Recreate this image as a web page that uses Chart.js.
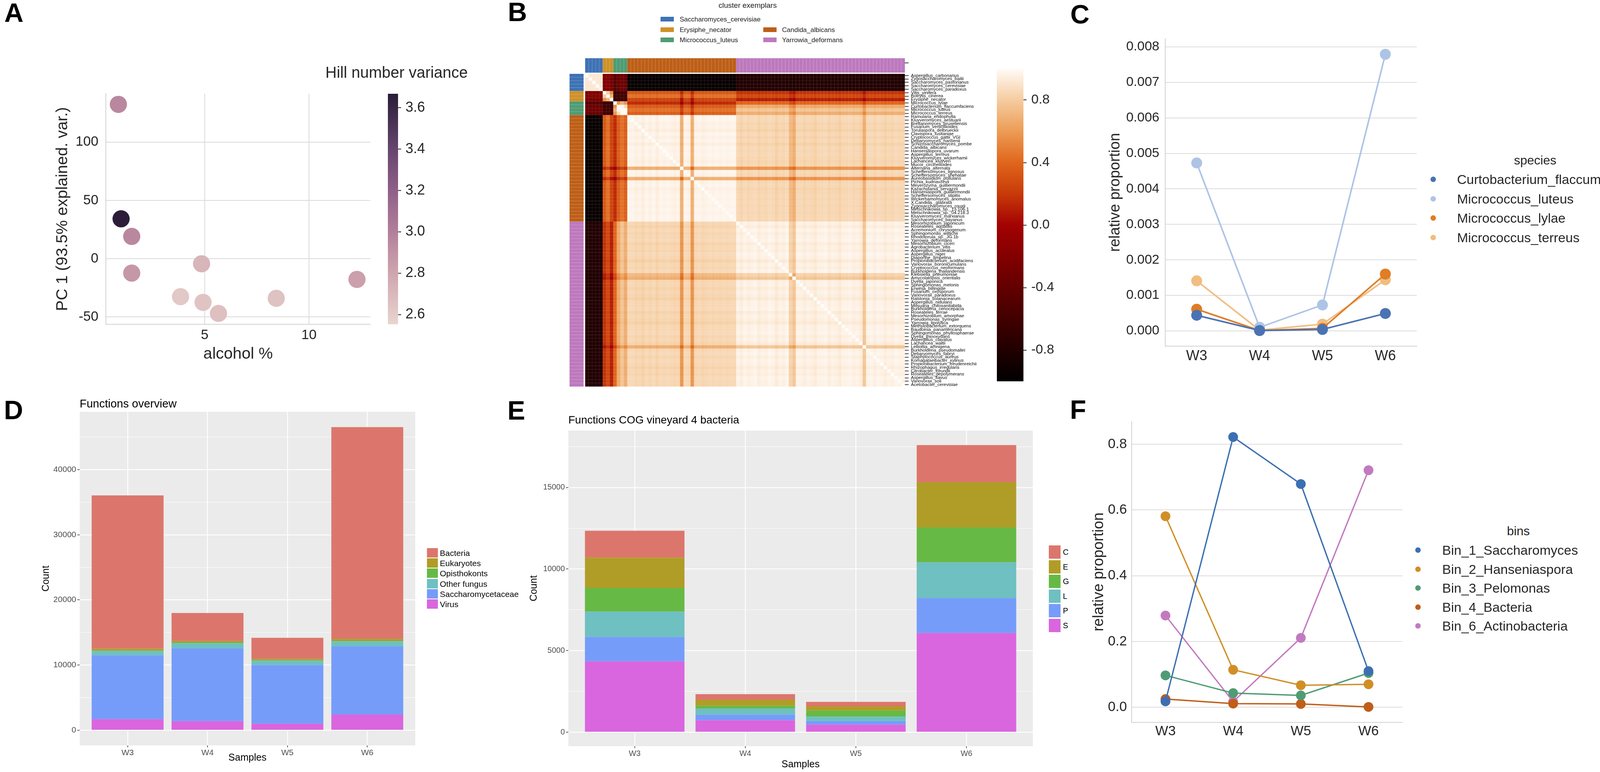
<!DOCTYPE html>
<html>
<head>
<meta charset="utf-8">
<script src="https://cdn.jsdelivr.net/npm/chart.js@4.4.1/dist/chart.umd.min.js"></script>
<style>
  html, body { margin: 0; padding: 0; background: #fff; }
  #page { position: relative; width: 4230px; height: 1976px; overflow: hidden;
          font-family: "Liberation Sans", Arial, Helvetica, sans-serif; color: #262626; }
  canvas { position: absolute; }
  .lbl { position: absolute; white-space: nowrap; line-height: 1; }
  .letter { position: absolute; font-weight: bold; font-size: 68px; line-height: 1; color: #000; }
  .sw { position: absolute; }
</style>
</head>
<body>
<div id="page"></div>
<script>
// ===== A : PCA vs alcohol =====
const alcoholPct   = [0.86, 0.99, 1.50, 1.50, 4.85, 12.3, 3.84, 4.92, 8.43, 5.66];
const pc1Values    = [132.4, 34.2, 19.1, -12.4, -4.4, -17.8, -32.6, -37.5, -34.0, -47.0];
const hillVariance = [2.95, 3.66, 2.95, 2.87, 2.72, 2.83, 2.62, 2.64, 2.65, 2.66];
const alcoholTicks = [5, 10];
const pc1Ticks     = [-50, 0, 50, 100];
const hillTicks    = [2.6, 2.8, 3.0, 3.2, 3.4, 3.6];

// ===== B : correlation heatmap =====
const clusterNames = ['Saccharomyces_cerevisiae', 'Erysiphe_necator', 'Micrococcus_luteus', 'Candida_albicans', 'Yarrowia_deformans'];
const clusterSizes = [5, 3, 4, 31, 48];
const speciesNames = [
  'Aspergillus_carbonarius','Zygosaccharomyces_bailii','Saccharomyces_pastorianus','Saccharomyces_cerevisiae','Saccharomyces_paradoxus',
  'Vitis_vinifera','Botrytis_cinerea','Erysiphe_necator',
  'Micrococcus_lylae','Curtobacterium_flaccumfaciens','Micrococcus_luteus','Micrococcus_terreus',
  'Ramularia_endophylla','Kluyveromyces_aestuarii','Brettanomyces_bruxellensis','Fusarium_verticillioides','Torulaspora_delbrueckii',
  'Clavispora_lusitaniae','Cryptococcus_gattii_VGI','Debaryomyces_hansenii','Schizosaccharomyces_pombe','Candida_albicans',
  'Hanseniaspora_uvarum','Aspergillus_terreus','Kluyveromyces_wickerhamii','Lachancea_kluyveri','Mucor_circinelloides',
  'Alternaria_alternata','Scheffersomyces_lignosus','Scheffersomyces_shehatae','Aureobasidium_pullulans','Pichia_kudriavzevii',
  'Meyerozyma_guilliermondii','Kazachstania_servazzii','Hanseniaspora_guilliermondii','Scheffersomyces_stipitis','Wickerhamomyces_anomalus',
  'X.Candida._glabrata','Zygosaccharomyces_rouxii','Metschnikowia_sp._13.106.1','Metschnikowia_sp._04.218.3','Kluyveromyces_marxianus',
  'Saccharomyces_bayanus',
  'Mesorhizobium_japonicum','Roseateles_aquatilis','Acremonium_chrysogenum','Sphingomonas_wittichii','Rhodotorula_sp._JG.1b',
  'Yarrowia_deformans','Mesorhizobium_ciceri','Agrobacterium_vitis','Aspergillus_aculeatus','Aspergillus_niger','Diaporthe_ampelina',
  'Propionibacterium_acidifaciens','Variovorax_boronicumulans','Cryptococcus_neoformans','Burkholderia_thailandensis','Klebsiella_pneumoniae',
  'Amycolatopsis_orientalis','Dyella_japonica','Sphingomonas_melonis','Erwinia_billingiae','Fusarium_oxysporum','Variovorax_paradoxus',
  'Ralstonia_solanacearum','Aspergillus_nidulans','Mitsuaria_chitosanitabida','Burkholderia_cenocepacia','Roseateles_terrae',
  'Mesorhizobium_amorphae','Pseudomonas_syringae','Yarrowia_lipolytica','Methylobacterium_extorquens','Baudoinia_panamericana',
  'Sphingomonas_phyllosphaerae','Dyella_thiooxydans','Aspergillus_clavatus','Lachancea_waltii','Lelliottia_amnigena',
  'Burkholderia_pseudomallei','Debaryomyces_fabryi','Staphylococcus_aureus','Komagataeibacter_xylinus','Propionibacterium_freudenreichii',
  'Rhizophagus_irregularis','Citrobacter_freundii','Roseateles_depolymerans','Aspergillus_flavus','Variovorax_soli','Acetobacter_cerevisiae'
];
// mean correlation between the cluster blocks
const blockCorr = [
  [ 0.92, -0.20, -0.35, -0.95, -0.80],
  [-0.20,  0.85, -0.60,  0.42,  0.25],
  [-0.35, -0.60,  0.95,  0.40,  0.72],
  [-0.95,  0.42,  0.40,  1.00,  0.88],
  [-0.80,  0.25,  0.72,  0.88,  1.00]
];
// how far each species sits below its block mean (the visible stripes)
const speciesDip = [
  0.00, 0.00, 0.00, 0.00, 0.00,
  0.10, -0.05, 0.22,
  0.35, 0.05, -0.08, 0.03,
  0.01, 0.01, 0.03, 0.02, 0.04, 0.01, 0.03, 0.01, 0.04, 0.01, 0.02, 0.01, 0.02, 0.03, 0.02,
  0.30, 0.01, 0.02, 0.30,
  0.02, 0.01, 0.03, 0.02, 0.01, 0.02, 0.01, 0.02, 0.01, 0.02, 0.01, 0.01,
  0.02, 0.04, 0.01, 0.03, 0.02, 0.01, 0.04, 0.02, 0.03, 0.01, 0.02, 0.05, 0.02, 0.03, 0.01,
  0.15, 0.20,
  0.02, 0.02, 0.04, 0.02, 0.03, 0.05, 0.02, 0.02, 0.01, 0.04, 0.02, 0.03, 0.05, 0.02, 0.02, 0.01, 0.03, 0.02, 0.04,
  0.20,
  0.02, 0.01, 0.03, 0.01, 0.02, 0.04, 0.02, 0.03, 0.01, 0.02, 0.02
];
const corrTicks = [-0.8, -0.4, 0.0, 0.4, 0.8];

// ===== C : Micrococcus species =====
const weeks = ['W3', 'W4', 'W5', 'W6'];
const speciesC = ['Curtobacterium_flaccumfaciens', 'Micrococcus_luteus', 'Micrococcus_lylae', 'Micrococcus_terreus'];
const curtoProp   = [0.00044, 0.00001, 0.00004, 0.00049];
const luteusProp  = [0.00473, 0.00010, 0.00073, 0.00779];
const lylaeProp   = [0.00061, 0.00001, 0.00007, 0.00160];
const terreusProp = [0.00141, 0.00002, 0.00019, 0.00144];
const propTicksC  = [0, 0.001, 0.002, 0.003, 0.004, 0.005, 0.006, 0.007, 0.008];

// ===== D : functions overview =====
const groupNames = ['Bacteria', 'Eukaryotes', 'Opisthokonts', 'Other fungus', 'Saccharomycetaceae', 'Virus'];
const ovBacteria     = [23550, 4300, 3240, 32500];
const ovEukaryotes   = [250, 200, 200, 280];
const ovOpisthokonts = [100, 150, 100, 100];
const ovOtherFungus  = [650, 800, 650, 800];
const ovSacch        = [9800, 11140, 9000, 10440];
const ovVirus        = [1700, 1400, 1000, 2400];
const countTicksD    = [0, 5000, 10000, 15000, 20000, 25000, 30000, 35000, 40000, 45000];

// ===== E : COG functions =====
const cogNames = ['C', 'E', 'G', 'L', 'P', 'S'];
const cogC = [1650, 340, 275, 2265];
const cogE = [1860, 375, 255, 2780];
const cogG = [1450, 170, 375, 2135];
const cogL = [1550, 375, 270, 2200];
const cogP = [1500, 340, 220, 2135];
const cogS = [4340, 730, 460, 6080];
const countTicksE = [0, 2500, 5000, 7500, 10000, 12500, 15000, 17500];

// ===== F : bins =====
const binNames = ['Bin_1_Saccharomyces', 'Bin_2_Hanseniaspora', 'Bin_3_Pelomonas', 'Bin_4_Bacteria', 'Bin_6_Actinobacteria'];
const bin1 = [0.018, 0.822, 0.679, 0.110];
const bin2 = [0.581, 0.114, 0.067, 0.070];
const bin3 = [0.097, 0.043, 0.036, 0.104];
const bin4 = [0.025, 0.011, 0.010, 0.001];
const bin6 = [0.279, 0.017, 0.211, 0.721];
const propTicksF = [0, 0.2, 0.4, 0.6, 0.8];

// ---------- styles ----------
const hillStops = [[2.553, '#e9d5cf'], [2.8, '#cfa5ae'], [3.0, '#b27f9a'], [3.2, '#8f6088'], [3.4, '#66456f'], [3.668, '#2a1d38']];
const heatStops = [[-1, '#000000'], [-0.6, '#420000'], [-0.2, '#830000'], [0, '#a30202'], [0.2, '#c83a08'],
                   [0.4, '#e0661c'], [0.6, '#ec9c55'], [0.8, '#f5cc9f'], [1, '#fffbf7']];
const clusterColors = ['#3e72b5', '#cf9128', '#4f9c74', '#bd5f17', '#bd79bd'];
const hueColors = ['#dc766c', '#b09d27', '#67b946', '#6ec0c1', '#769cfa', '#d966de'];
const cColors = ['#4a73b3', '#aec4e6', '#e07d25', '#f1bd80'];
const fColors = ['#3c6fb2', '#d08f26', '#4f9c74', '#c05d19', '#c27abf'];

const page = document.getElementById('page');
Chart.defaults.font.family = '"Liberation Sans", Arial, Helvetica, sans-serif';
Chart.defaults.color = '#262626';

function hexRgb(h) { return [1, 3, 5].map(k => parseInt(h.slice(k, k + 2), 16)); }
function lerpStops(stops, v) {
  if (v <= stops[0][0]) return stops[0][1];
  for (let k = 1; k < stops.length; k++) {
    if (v <= stops[k][0]) {
      const a = hexRgb(stops[k - 1][1]), b = hexRgb(stops[k][1]);
      const t = (v - stops[k - 1][0]) / (stops[k][0] - stops[k - 1][0]);
      return 'rgb(' + a.map((x, i) => Math.round(x + (b[i] - x) * t)).join(',') + ')';
    }
  }
  return stops[stops.length - 1][1];
}

const PAD = 40;
function mountCanvas(area, ax) {
  const wl = ax.left || 0, wr = ax.right || 0, hb = ax.bottom || 0;
  const c = document.createElement('canvas');
  const w = (area.r - area.l) + wl + wr + 2 * PAD, h = (area.b - area.t) + hb + 2 * PAD;
  c.width = w; c.height = h;
  c.style.left = (area.l - wl - PAD) + 'px'; c.style.top = (area.t - PAD) + 'px';
  c.style.width = w + 'px'; c.style.height = h + 'px';
  page.appendChild(c);
  return c;
}
const fixW = w => s => { s.width = w; s.paddingTop = 0; s.paddingBottom = 0; };
const fixH = h => s => { s.height = h; s.paddingLeft = 0; s.paddingRight = 0; };
const useTicks = list => s => { s.ticks = list.map(v => ({ value: v })); };
function base(extraPlugins) {
  return {
    responsive: false, animation: false, devicePixelRatio: 1, events: [],
    layout: { padding: PAD },
    plugins: Object.assign({ legend: { display: false }, tooltip: { enabled: false } }, extraPlugins || {})
  };
}

function addText(txt, x, y, size, opt) {
  opt = opt || {};
  const d = document.createElement('div');
  d.className = 'lbl';
  d.textContent = txt;
  d.style.left = x + 'px'; d.style.top = y + 'px'; d.style.fontSize = size + 'px';
  d.style.transform = opt.center ? 'translate(-50%,-50%)' : 'translateY(-50%)';
  if (opt.color) d.style.color = opt.color;
  page.appendChild(d);
}
function addLetter(t, x, capTop) {
  const d = document.createElement('div');
  d.className = 'letter'; d.textContent = t;
  d.style.left = x + 'px'; d.style.top = (capTop - 9) + 'px';
  page.appendChild(d);
}
function addSwatch(x, y, w, h, color, round) {
  const d = document.createElement('div');
  d.className = 'sw';
  d.style.left = x + 'px'; d.style.top = y + 'px'; d.style.width = w + 'px'; d.style.height = h + 'px';
  d.style.background = color;
  if (round) d.style.borderRadius = '50%';
  page.appendChild(d);
}

// ---------- plugins ----------
const colorbarPlugin = {
  id: 'colorbar',
  beforeDatasetsDraw(chart, args, opts) {
    const { ctx, chartArea: a, scales: { y } } = chart;
    const yTop = y.getPixelForValue(y.max), yBot = y.getPixelForValue(y.min);
    const g = ctx.createLinearGradient(0, yBot, 0, yTop);
    opts.stops.forEach(([v, c]) => g.addColorStop(Math.min(1, Math.max(0, (v - y.min) / (y.max - y.min))), c));
    ctx.save();
    ctx.fillStyle = g;
    ctx.fillRect(a.left, yTop, a.right - a.left, yBot - yTop);
    ctx.restore();
  }
};
const panelBgPlugin = {
  id: 'panelBg',
  beforeDraw(chart, args, opts) {
    const { ctx, chartArea: a } = chart;
    ctx.save(); ctx.fillStyle = opts.color || '#ebebeb';
    ctx.fillRect(a.left, a.top, a.right - a.left, a.bottom - a.top); ctx.restore();
  }
};

function colorbarChart(area, wr, min, max, tickList, stops, fontSize, pad) {
  return new Chart(mountCanvas(area, { right: wr }), {
    type: 'scatter',
    data: { datasets: [] },
    options: Object.assign(base({ colorbar: { stops } }), {
      scales: {
        x: { display: false, min: 0, max: 1 },
        y: { position: 'right', min, max, bounds: 'data', afterBuildTicks: useTicks(tickList),
             ticks: { callback: v => v.toFixed(1), font: { size: fontSize }, color: '#262626', padding: pad },
             grid: { drawOnChartArea: false, drawTicks: true, tickLength: 8, tickColor: '#262626', tickWidth: 2 },
             border: { display: false }, afterFit: fixW(wr) }
      }
    }),
    plugins: [colorbarPlugin]
  });
}

// =============== Panel A ===============
const areaA = { l: 271, t: 240, r: 948, b: 830 };
new Chart(mountCanvas(areaA, { left: 139, bottom: 105 }), {
  type: 'scatter',
  data: { datasets: [{
    data: alcoholPct.map((x, i) => ({ x, y: pc1Values[i] })),
    backgroundColor: hillVariance.map(h => lerpStops(hillStops, h)),
    borderWidth: 0, pointRadius: 22, pointHoverRadius: 22, clip: false
  }] },
  options: Object.assign(base(), {
    scales: {
      x: { type: 'linear', min: 0.26, max: 12.94, bounds: 'data', afterBuildTicks: useTicks(alcoholTicks),
           ticks: { font: { size: 35 }, color: '#262626', padding: 7 },
           grid: { color: '#dadada', lineWidth: 2, drawTicks: false },
           border: { color: '#d2d2d2', width: 2 },
           title: { display: true, text: 'alcohol %', font: { size: 41 }, color: '#262626' },
           afterFit: fixH(105) },
      y: { min: -56.3, max: 141.5, bounds: 'data', afterBuildTicks: useTicks(pc1Ticks),
           ticks: { font: { size: 35 }, color: '#262626', padding: 19 },
           grid: { color: '#dadada', lineWidth: 2, drawTicks: false },
           border: { color: '#d2d2d2', width: 2 },
           title: { display: true, text: 'PC 1 (93.5% explained. var.)', font: { size: 41 }, color: '#262626' },
           afterFit: fixW(139) }
    }
  })
});
colorbarChart({ l: 993, t: 240, r: 1019, b: 830 }, 100, 2.553, 3.668, hillTicks, hillStops, 36, 11);
addText('Hill number variance', 833, 185, 40);

// =============== Panel B ===============
const clusterOf = [];
clusterSizes.forEach((n, c) => { for (let k = 0; k < n; k++) clusterOf.push(c); });
const heatCells = [];
speciesNames.forEach((rowName, i) => {
  speciesNames.forEach((colName, j) => {
    let v = 1;
    if (i !== j) {
      const b = blockCorr[clusterOf[i]][clusterOf[j]];
      v = Math.max(-1, Math.min(1, b - (b + 1) / 2 * (speciesDip[i] + speciesDip[j])));
    }
    heatCells.push({ x: colName, y: rowName, v });
  });
});
const heatmapPlugin = {
  id: 'heatCells',
  beforeDatasetsDraw(chart) {
    const { ctx, chartArea: a, scales: { x: xs, y: ys } } = chart;
    const meta = chart.getDatasetMeta(0);
    const raw = chart.data.datasets[0].data;
    const cw = xs.getPixelForValue(1) - xs.getPixelForValue(0);
    const ch = ys.getPixelForValue(1) - ys.getPixelForValue(0);
    ctx.save();
    meta.data.forEach((pt, k) => {
      ctx.fillStyle = lerpStops(heatStops, raw[k].v);
      ctx.fillRect(pt.x - cw / 2, pt.y - ch / 2, cw + 0.5, ch + 0.5);
    });
    ctx.strokeStyle = 'rgba(255,255,255,0.12)'; ctx.lineWidth = 1;
    ctx.beginPath();
    for (let k = 0; k <= speciesNames.length; k++) {
      const x = xs.getPixelForValue(0) - cw / 2 + k * cw, y = ys.getPixelForValue(0) - ch / 2 + k * ch;
      ctx.moveTo(x, a.top); ctx.lineTo(x, a.bottom);
      ctx.moveTo(a.left, y); ctx.lineTo(a.right, y);
    }
    ctx.stroke();
    // cluster annotation bars (top and left)
    speciesNames.forEach((n, k) => {
      ctx.fillStyle = clusterColors[clusterOf[k]];
      ctx.fillRect(xs.getPixelForValue(k) - cw / 2, a.top - 52, cw + 0.5, 49);
      ctx.fillRect(a.left - 53, ys.getPixelForValue(k) - ch / 2, 49, ch + 0.5);
    });
    ctx.strokeStyle = 'rgba(255,255,255,0.28)';
    ctx.beginPath();
    for (let k = 1; k < speciesNames.length; k++) {
      const x = xs.getPixelForValue(0) - cw / 2 + k * cw, y = ys.getPixelForValue(0) - ch / 2 + k * ch;
      ctx.moveTo(x, a.top - 52); ctx.lineTo(x, a.top - 3);
      ctx.moveTo(a.left - 53, y); ctx.lineTo(a.left - 4, y);
    }
    ctx.stroke();
    // small tick beside the top annotation bar
    ctx.strokeStyle = '#000'; ctx.lineWidth = 1.5;
    ctx.beginPath(); ctx.moveTo(a.right, a.top - 28); ctx.lineTo(a.right + 10, a.top - 28); ctx.stroke();
    ctx.restore();
  }
};
const areaB = { l: 1498, t: 189, r: 2316, b: 989 };
new Chart(mountCanvas(areaB, { right: 200 }), {
  type: 'scatter',
  data: { datasets: [{ data: heatCells, pointRadius: 0, pointHoverRadius: 0 }] },
  options: Object.assign(base(), {
    scales: {
      x: { type: 'category', labels: speciesNames, offset: true, display: false },
      y: { type: 'category', labels: speciesNames, offset: true, position: 'right',
           ticks: { autoSkip: false, font: { size: 11.5 }, color: '#000', padding: 6 },
           grid: { drawOnChartArea: false, drawTicks: true, tickLength: 10, tickColor: '#000', tickWidth: 1.5 },
           border: { display: false }, afterFit: fixW(200) }
    }
  }),
  plugins: [heatmapPlugin]
});
colorbarChart({ l: 2552, t: 176, r: 2620, b: 976 }, 110, -1.0, 1.0, corrTicks, heatStops, 34, 12);
addText('cluster exemplars', 1914, 13, 19, { center: true });
[[0, 1691, 1740, 49], [1, 1691, 1740, 76], [2, 1691, 1740, 102], [3, 1954, 2002, 76], [4, 1954, 2002, 102]]
  .forEach(([c, sx, tx, y]) => { addSwatch(sx, y - 6, 34, 12, clusterColors[c]); addText(clusterNames[c], tx, y, 17); });

// =============== Panel C ===============
const areaC = { l: 2983, t: 99, r: 3627, b: 886 };
const cSeries = [curtoProp, luteusProp, lylaeProp, terreusProp];
new Chart(mountCanvas(areaC, { left: 154, bottom: 50 }), {
  type: 'line',
  data: { labels: weeks, datasets: cSeries.map((d, i) => ({
    label: speciesC[i], data: d, borderColor: cColors[i], backgroundColor: cColors[i],
    borderWidth: 4, pointRadius: 14, pointHoverRadius: 14, pointBorderWidth: 0, tension: 0, clip: false })) },
  options: Object.assign(base(), {
    scales: {
      x: { offset: true, grid: { display: false, drawTicks: false }, border: { color: '#d2d2d2', width: 2 },
           ticks: { font: { size: 36 }, color: '#262626', padding: 4 }, afterFit: fixH(50) },
      y: { min: -0.00043, max: 0.00823, bounds: 'data', afterBuildTicks: useTicks(propTicksC),
           ticks: { callback: v => v.toFixed(3), font: { size: 34 }, color: '#262626', padding: 15 },
           grid: { color: '#dcdcdc', lineWidth: 2, drawTicks: false }, border: { color: '#d2d2d2', width: 2 },
           title: { display: true, text: 'relative proportion', font: { size: 38 }, color: '#262626' },
           afterFit: fixW(154) }
    }
  })
});
addText('species', 3930, 410, 32, { center: true });
speciesC.forEach((n, i) => { const y = 459 + i * 49.7; addSwatch(3662, y - 7, 14, 14, cColors[i], true); addText(n, 3730, y, 34); });

// =============== Panels D and E (ggplot style) ===============
const weekPos = [1, 2, 3, 4];
const xy = arr => arr.map((v, i) => ({ x: weekPos[i], y: v }));
function ggAxes(yMin, yMax, tickList, majorStep, tickFont, wl, hb) {
  const isMajor = c => c.tick && Math.abs(c.tick.value % majorStep) < 1e-6;
  return {
    x: { type: 'linear', stacked: true, offset: false, min: 0.4, max: 4.6, bounds: 'data', afterBuildTicks: useTicks(weekPos),
         ticks: { callback: v => weeks[Math.round(v) - 1], font: { size: tickFont }, color: '#4d4d4d', padding: 2 },
         grid: { offset: false, color: '#ffffff', lineWidth: 2.2, drawTicks: true, tickLength: 5, tickColor: '#333333', tickWidth: 1.5 },
         border: { display: false },
         title: { display: true, text: 'Samples', font: { size: 25 }, color: '#000' }, afterFit: fixH(hb) },
    y: { stacked: true, min: yMin, max: yMax, bounds: 'data', afterBuildTicks: useTicks(tickList),
         ticks: { callback: v => (Math.abs(v % majorStep) < 1e-6 ? String(v) : ''), font: { size: tickFont }, color: '#4d4d4d', padding: 3 },
         grid: { color: '#ffffff', lineWidth: c => (isMajor(c) ? 2.2 : 1.1), drawTicks: true, tickLength: 6,
                 tickColor: c => (isMajor(c) ? '#333333' : 'rgba(0,0,0,0)'), tickWidth: 1.5 },
         border: { display: false },
         title: { display: true, text: 'Count', font: { size: 25 }, color: '#000' }, afterFit: fixW(wl) }
  };
}
const areaD = { l: 204, t: 1054, r: 1063, b: 1908 };
const ovSeries = [ovBacteria, ovEukaryotes, ovOpisthokonts, ovOtherFungus, ovSacch, ovVirus];
new Chart(mountCanvas(areaD, { left: 105, bottom: 51 }), {
  type: 'bar',
  data: { datasets: ovSeries.map((d, i) => ({ label: groupNames[i], data: xy(d), backgroundColor: hueColors[i] })).reverse() },
  options: Object.assign(base({ panelBg: { color: '#ebebeb' } }), {
    datasets: { bar: { barPercentage: 0.9, categoryPercentage: 1.0, borderWidth: 0 } },
    scales: ggAxes(-2340, 48880, countTicksD, 10000, 21, 105, 51)
  }),
  plugins: [panelBgPlugin]
});
addText('Functions overview', 204, 1033, 29, { color: '#000' });
groupNames.forEach((n, i) => { const y = 1415 + i * 26.2; addSwatch(1093, y - 12, 28, 24, hueColors[i]); addText(n, 1126, y, 21, { color: '#000' }); });

const areaE = { l: 1455, t: 1102, r: 2644, b: 1910 };
const cogSeries = [cogC, cogE, cogG, cogL, cogP, cogS];
new Chart(mountCanvas(areaE, { left: 107, bottom: 66 }), {
  type: 'bar',
  data: { datasets: cogSeries.map((d, i) => ({ label: cogNames[i], data: xy(d), backgroundColor: hueColors[i] })).reverse() },
  options: Object.assign(base({ panelBg: { color: '#ebebeb' } }), {
    datasets: { bar: { barPercentage: 0.9, categoryPercentage: 1.0, borderWidth: 0 } },
    scales: ggAxes(-861, 18490, countTicksE, 5000, 20, 107, 66)
  }),
  plugins: [panelBgPlugin]
});
addText('Functions COG vineyard 4 bacteria', 1455, 1075, 28, { color: '#000' });
cogNames.forEach((n, i) => { const y = 1413 + i * 37.6; addSwatch(2685, y - 17, 30, 34, hueColors[i]); addText(n, 2721, y, 20, { color: '#000' }); });

// =============== Panel F ===============
const areaF = { l: 2897, t: 1079, r: 3590, b: 1849 };
const binSeries = [bin1, bin2, bin3, bin4, bin6];
new Chart(mountCanvas(areaF, { left: 110, bottom: 50 }), {
  type: 'line',
  data: { labels: weeks, datasets: binSeries.map((d, i) => ({
    label: binNames[i], data: d, borderColor: fColors[i], backgroundColor: fColors[i],
    borderWidth: 3.5, pointRadius: 12.5, pointHoverRadius: 12.5, pointBorderWidth: 0, tension: 0, clip: false })) },
  options: Object.assign(base(), {
    scales: {
      x: { offset: true, grid: { display: false, drawTicks: false }, border: { color: '#d2d2d2', width: 2 },
           ticks: { font: { size: 35 }, color: '#262626', padding: 2 }, afterFit: fixH(50) },
      y: { min: -0.046, max: 0.869, bounds: 'data', afterBuildTicks: useTicks(propTicksF),
           ticks: { callback: v => v.toFixed(1), font: { size: 35 }, color: '#262626', padding: 12 },
           grid: { color: '#dcdcdc', lineWidth: 2, drawTicks: false }, border: { color: '#d2d2d2', width: 2 },
           title: { display: true, text: 'relative proportion', font: { size: 38 }, color: '#262626' },
           afterFit: fixW(110) }
    }
  })
});
addText('bins', 3887, 1359, 32, { center: true });
binNames.forEach((n, i) => { const y = 1408 + i * 48.5; addSwatch(3623, y - 7, 14, 14, fColors[i], true); addText(n, 3692, y, 34); });

// panel letters
addLetter('A', 11, 7); addLetter('B', 1300, 5); addLetter('C', 2740, 11);
addLetter('D', 10, 1024); addLetter('E', 1299, 1025); addLetter('F', 2739, 1023);
</script>
</body>
</html>
